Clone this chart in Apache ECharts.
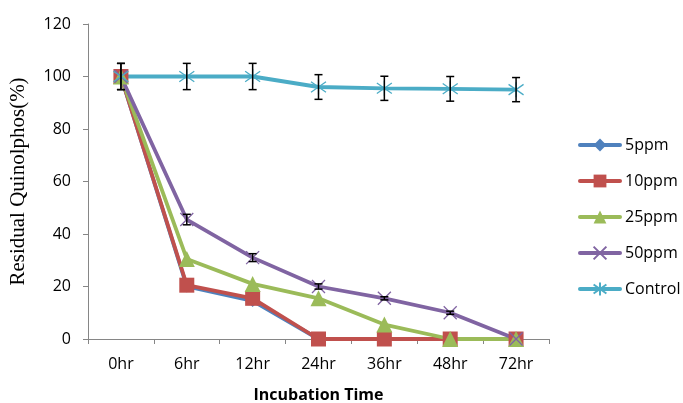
<!DOCTYPE html>
<html>
<head>
<meta charset="utf-8">
<script src="https://cdn.jsdelivr.net/npm/echarts@6/dist/echarts.min.js"></script>
<style>
  html, body { margin: 0; padding: 0; background: #fff; }
  #main { width: 683px; height: 403px; }
</style>
</head>
<body>
<div id="main"></div>
<script>
var hours = ['0hr', '6hr', '12hr', '24hr', '36hr', '48hr', '72hr'];
var ppm5 = [100, 20, 14.5, 0, 0, 0, 0];
var ppm10 = [100, 20.5, 15.5, 0, 0, 0, 0];
var ppm25 = [100, 30.5, 21, 15.5, 5.5, 0, 0];
var ppm50 = [100, 45.5, 31, 20, 15.5, 10, 0];
var control = [100, 100, 100, 96, 95.5, 95.3, 95];
// error bar half widths
var errControl = [5, 5, 5, 4.7, 4.6, 4.7, 4.6];
var err50 = [5, 2, 1.5, 1, 0.6, 0.6, 0];

var colors = ['#4F81BD', '#C0504D', '#9BBB59', '#8064A2', '#4BACC6'];
var crossPath = 'path://M0,0L10,10M10,0L0,10';
var starPath = 'path://M5,0L5,10M0.5,1.5L9.5,8.5M9.5,1.5L0.5,8.5';

function errData(vals, errs) {
  var out = [];
  for (var i = 0; i < vals.length; i++) {
    if (errs[i] > 0) out.push([i, vals[i] - errs[i], vals[i] + errs[i]]);
  }
  return out;
}

function renderErr(params, api) {
  var x = api.value(0);
  var lo = api.coord([x, api.value(1)]);
  var hi = api.coord([x, api.value(2)]);
  var w = 4;
  var st = { stroke: '#000', lineWidth: 1.5 };
  return {
    type: 'group',
    children: [
      { type: 'line', shape: { x1: hi[0], y1: hi[1], x2: lo[0], y2: lo[1] }, style: st },
      { type: 'line', shape: { x1: hi[0] - w, y1: hi[1], x2: hi[0] + w, y2: hi[1] }, style: st },
      { type: 'line', shape: { x1: lo[0] - w, y1: lo[1], x2: lo[0] + w, y2: lo[1] }, style: st }
    ]
  };
}

function lineSeries(name, data, color, symbol, size, stroked) {
  return {
    name: name,
    type: 'line',
    data: data,
    symbol: symbol,
    symbolSize: size,
    showAllSymbol: true,
    lineStyle: { color: color, width: 3.8 },
    itemStyle: stroked
      ? { color: color, borderColor: color, borderWidth: 1.3 }
      : { color: color },
    emphasis: { disabled: true },
    animation: false,
    z: 3
  };
}

var chart = echarts.init(document.getElementById('main'));
chart.setOption({
  animation: false,
  grid: { left: 88, right: 134, top: 24, bottom: 64, outerBoundsMode: 'none' },
  legend: {
    orient: 'vertical',
    left: 573,
    top: 132,
    itemGap: 20,
    itemWidth: 40,
    itemHeight: 16,
    lineStyle: { width: 4, cap: 'round' },
    textStyle: { fontFamily: 'Open Sans', fontSize: 16, color: '#000' },
    data: ['5ppm', '10ppm', '25ppm', '50ppm', 'Control']
  },
  xAxis: {
    type: 'category',
    data: hours,
    boundaryGap: true,
    name: 'Incubation Time',
    nameLocation: 'middle',
    nameGap: 48,
    nameTextStyle: { fontFamily: 'Open Sans', fontSize: 16, fontWeight: 'bold', color: '#000' },
    axisLine: { lineStyle: { color: '#868686', width: 1 } },
    axisTick: { show: true, alignWithLabel: false, length: 5, lineStyle: { color: '#868686' } },
    axisLabel: { fontFamily: 'Open Sans', fontSize: 16, color: '#000', margin: 17 }
  },
  yAxis: {
    type: 'value',
    min: 0,
    max: 120,
    interval: 20,
    name: 'Residual Quinolphos(%)',
    nameLocation: 'middle',
    nameGap: 59,
    nameTextStyle: { fontFamily: 'Liberation Serif', fontSize: 21, color: '#000' },
    axisLine: { show: true, lineStyle: { color: '#868686', width: 1 } },
    axisTick: { show: true, length: 5, lineStyle: { color: '#868686' } },
    splitLine: { show: false },
    axisLabel: { fontFamily: 'Open Sans', fontSize: 16, color: '#000', margin: 17 }
  },
  series: [
    lineSeries('5ppm', ppm5, colors[0], 'diamond', 12, false),
    lineSeries('10ppm', ppm10, colors[1], 'rect', 15, false),
    lineSeries('25ppm', ppm25, colors[2], 'triangle', 16, false),
    lineSeries('50ppm', ppm50, colors[3], crossPath, 13, true),
    lineSeries('Control', control, colors[4], starPath, 15, true),
    {
      type: 'custom',
      renderItem: renderErr,
      data: errData(control, errControl),
      encode: { x: 0, y: [1, 2] },
      silent: true,
      z: 5
    },
    {
      type: 'custom',
      renderItem: renderErr,
      data: errData(ppm50, err50),
      encode: { x: 0, y: [1, 2] },
      silent: true,
      z: 5
    }
  ]
});
</script>
</body>
</html>
